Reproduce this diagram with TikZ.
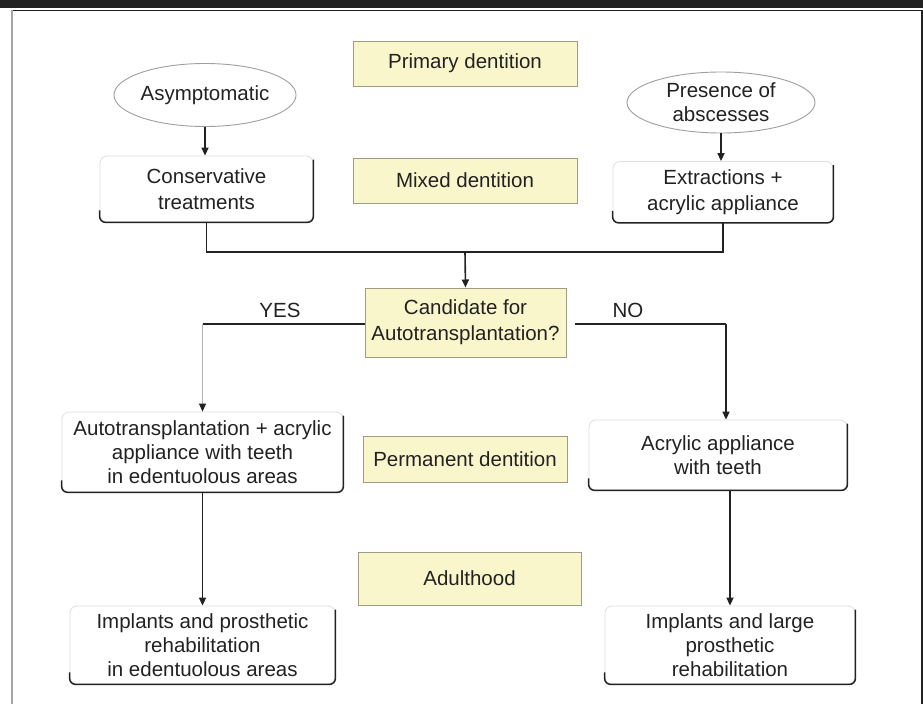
\documentclass[tikz,border=0pt]{standalone}
\usepackage{fontspec}
\setmainfont{Liberation Sans}
\usetikzlibrary{shapes.geometric,arrows.meta}
\definecolor{ink}{HTML}{222222}
\definecolor{pale}{HTML}{FAF6CC}
\definecolor{paleedge}{HTML}{A09C84}
\newcommand\boxrim[1]{\draw[ink, line width=1.5pt, rounded corners=6pt]
  ([yshift=-4pt]#1.north east) -- (#1.south east) -- (#1.south west) -- ([yshift=12pt]#1.south west);}
\begin{document}
\begin{tikzpicture}[x=1pt,y=-1pt,
  font=\fontsize{20.5}{24}\selectfont, text=ink,
  stage/.style={draw=paleedge, fill=pale, line width=1pt, inner sep=0pt, align=center},
  oval/.style={ellipse, draw=gray!75, line width=0.9pt, inner sep=0pt, align=center},
  softbox/.style={draw=gray!25, line width=0.8pt, rounded corners=7pt, inner sep=0pt, align=center},
  loose/.style={font=\fontsize{20.5}{26}\selectfont},
  link/.style={draw=ink, line width=1.6pt},
  arr/.style={link, -{Triangle[length=8pt,width=7pt]}},
  thinarr/.style={draw=gray!60, line width=0.8pt, -{Triangle[length=8pt,width=7pt,color=ink]}},
  lbl/.style={inner sep=0pt}]
\useasboundingbox (0,0) rectangle (923,704);
\fill[white] (0,0) rectangle (923,704);
% frame
\fill[ink] (0,0) rectangle (923,8);
\draw[ink, line width=0.8pt] (11,10.5) -- (922,10.5);
\draw[gray!70, line width=2pt] (12,10) -- (12,704);
\draw[ink, line width=2pt] (921.5,10) -- (921.5,704);

% stage boxes
\node[stage, minimum width=224pt, minimum height=45pt] (prim) at (465,63.5) {Primary dentition};
\node[stage, minimum width=224pt, minimum height=45pt] (mixd) at (465,180.5) {Mixed dentition};
\node[stage, minimum width=201pt, minimum height=69pt, loose] (cand) at (465.5,322.5) {Candidate for\\Autotransplantation?};
\node[stage, minimum width=204pt, minimum height=46pt] (perm) at (465,459) {Permanent dentition};
\node[stage, minimum width=223pt, minimum height=53pt] (adlt) at (469.5,578.5) {Adulthood};

% ellipses
\node[oval, minimum width=180pt, minimum height=63pt] (asym) at (205,95) {Asymptomatic};
\node[oval, minimum width=188pt, minimum height=61pt] (pres) at (721,102.5) {Presence of\\abscesses};

% soft boxes
\node[softbox, minimum width=213pt, minimum height=66pt, loose] (cons) at (206.5,189) {Conservative\\treatments};
\node[softbox, minimum width=220pt, minimum height=61pt, loose] (extr) at (723,192) {Extractions +\\acrylic appliance};
\node[softbox, minimum width=281pt, minimum height=80pt] (auto) at (202.5,452) {Autotransplantation + acrylic\\appliance with teeth\\in edentuolous areas};
\node[softbox, minimum width=258pt, minimum height=70pt] (acry) at (718,455) {Acrylic appliance\\with teeth};
\node[softbox, minimum width=265pt, minimum height=78pt] (impl) at (202.5,645) {Implants and prosthetic\\rehabilitation\\in edentuolous areas};
\node[softbox, minimum width=250pt, minimum height=78pt] (impr) at (730,645) {Implants and large\\prosthetic\\rehabilitation};
\boxrim{cons}\boxrim{extr}\boxrim{auto}\boxrim{acry}\boxrim{impl}\boxrim{impr}

% labels
\node[lbl] (yes) at (280,310) {YES};
\node[lbl] (no) at (628,310) {NO};

% connectors
\coordinate (merge) at (465,252);
\draw[arr] (asym.south) -- (asym.south |- cons.north);
\draw[arr] (pres.south) -- (pres.south |- extr.north);
\draw[link] (cons.south) -- (cons.south |- merge) -- (extr.south |- merge) -- (extr.south);
\draw[arr] (merge) -- (cand.north);
\coordinate (ycorner) at (auto.north |- 0,324);
\coordinate (ncorner) at (726,324);
\draw[link] ([yshift=-1.5pt]cand.west) -- (ycorner);
\draw[thinarr] (ycorner) -- (auto.north);
\draw[link] ([xshift=8pt,yshift=-1.5pt]cand.east) -- (ncorner);
\draw[arr] (ncorner) -- (ncorner |- acry.north);
\draw[arr] (auto.south) -- (impl.north);
\coordinate (rdrop) at (730,0);
\draw[arr] (rdrop |- acry.south) -- (rdrop |- impr.north);
\end{tikzpicture}
\end{document}
